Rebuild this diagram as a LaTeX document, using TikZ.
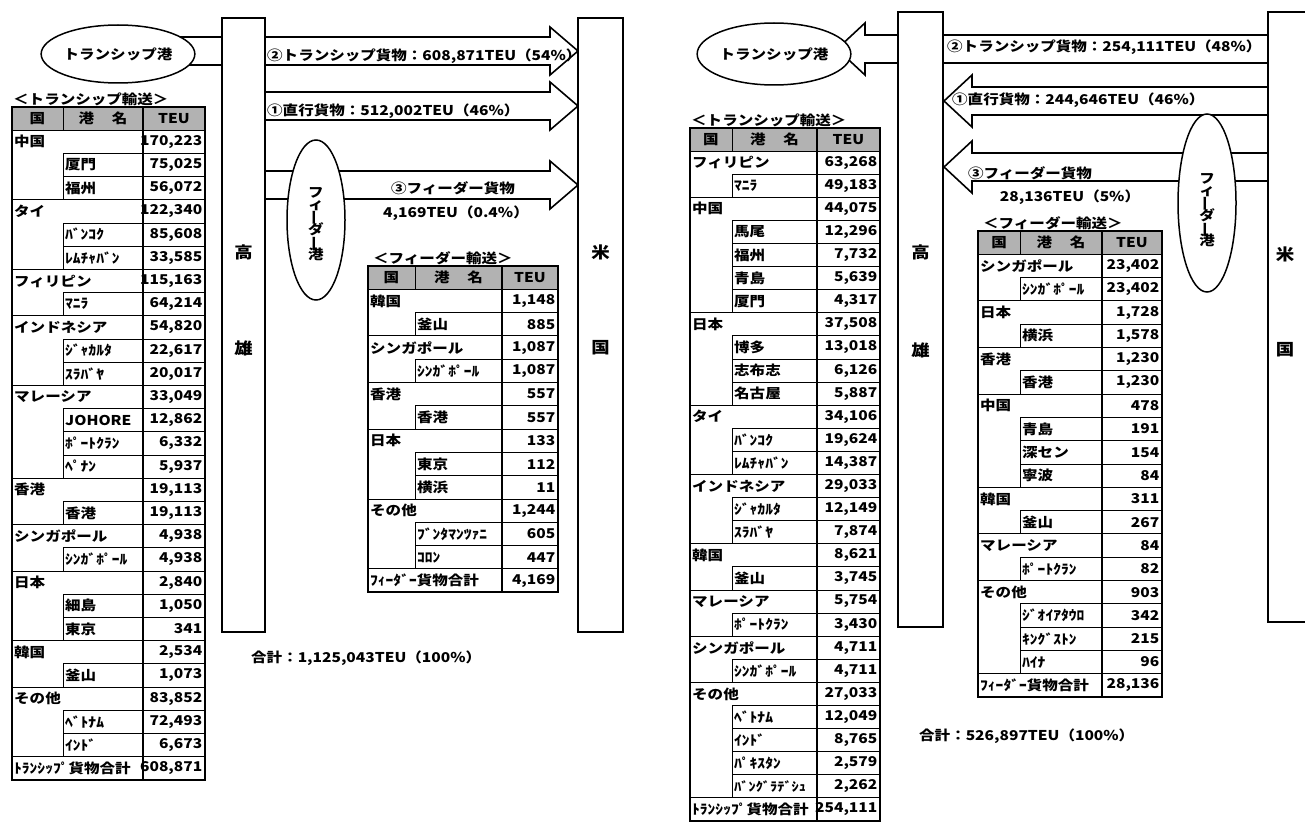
\documentclass[tikz,border=0pt]{standalone}
\usepackage{fontspec}
\setmainfont{Noto Sans CJK JP}[FakeStretch=1.15]
\usetikzlibrary{shapes.geometric}
\newcount\RowNo
\newcommand\fT{\bfseries\fontsize{13.5}{15}\selectfont}
\newcommand\fL{\bfseries\fontsize{13.5}{16}\selectfont}
\newcommand\fB{\bfseries\fontsize{16}{18}\selectfont}
\tikzset{
 tline/.style={line width=1pt},
 tframe/.style={line width=2pt},
 hdrfill/.style={fill=black!30},
 hdr/.style={inner sep=0pt,font=\fT},
 cname/.style={anchor=west,inner sep=2pt,font=\fT},
 cval/.style={anchor=east,inner sep=2.5pt,font=\fT},
 blk/.style={draw,fill=white,line width=1.6pt,line join=miter},
 pillar/.style={draw,fill=white,line width=1.6pt,inner sep=0pt},
 ell/.style={ellipse,draw,fill=white,line width=1.5pt,inner sep=0pt,font=\fL},
 albl/.style={inner sep=1pt,font=\fL},
 tlbl/.style={anchor=south west,inner sep=1pt,font=\fL},
 big/.style={inner sep=0pt,font=\fB},
}
% table helpers
\newcommand\TblBegin[7]{%
  \gdef\Tn{#1}\gdef\TxA{#2}\gdef\TxS{#3}\gdef\TxT{#4}\gdef\TxB{#5}\gdef\TyTop{#6}\gdef\TrH{#7}%
  \global\RowNo=0
  \pgfmathsetmacro\Yb{#6+#7}\pgfmathsetmacro\Ym{#6+#7/2}%
  \fill[hdrfill] (#2,#6) rectangle (#5,\Yb);
  \draw[tline] (#3,#6) -- (#3,\Yb) (#4,#6) -- (#4,\Yb);
  \node[hdr] (#1-h1) at ({(#2+#3)/2},\Ym) {国};
  \node[hdr] (#1-h2) at ({(#3+#4)/2},\Ym) {港\hspace{1.3em}名};
  \node[hdr] (#1-h3) at ({(#4+#5)/2},\Ym) {TEU};
}
\newcommand\RowCalc{\global\advance\RowNo by 1
  \pgfmathsetmacro\Yt{\TyTop+\the\RowNo*\TrH}%
  \pgfmathsetmacro\Yb{\Yt+\TrH}%
  \pgfmathsetmacro\Ym{\Yt+\TrH/2}}
\newcommand\Grp[2]{\RowCalc
  \draw[tline] (\TxA,\Yt) -- (\TxB,\Yt);
  \draw[tline] (\TxS,\Yb) -- (\TxB,\Yb);
  \node[cname] (\Tn-\the\RowNo-n) at (\TxA,\Ym) {#1};
  \node[cval] (\Tn-\the\RowNo-v) at (\TxB,\Ym) {#2};}
\newcommand\Sub[2]{\RowCalc
  \draw[tline] (\TxS,\Yt) -- (\TxS,\Yb) -- (\TxB,\Yb);
  \node[cname] (\Tn-\the\RowNo-n) at (\TxS,\Ym) {#1};
  \node[cval] (\Tn-\the\RowNo-v) at (\TxB,\Ym) {#2};}
\newcommand\Tot[2]{\RowCalc
  \draw[tline] (\TxA,\Yt) -- (\TxB,\Yt);
  \node[cname] (\Tn-\the\RowNo-n) at (\TxA,\Ym) {#1};
  \node[cval] (\Tn-\the\RowNo-v) at (\TxB,\Ym) {#2};
  \draw[tframe] (\TxA,\TyTop) rectangle (\TxB,\Yb);
  \draw[tframe] (\TxT,\TyTop) -- (\TxT,\Yb);}
% block arrows
\newcommand\ArrR[3]{\draw[blk] (#1,{#3-14}) -- ({#2-28},{#3-14}) -- ({#2-28},{#3-24}) -- (#2,#3) -- ({#2-28},{#3+24}) -- ({#2-28},{#3+14}) -- (#1,{#3+14}) -- cycle;}
\newcommand\ArrL[3]{\draw[blk] (#1,{#3-14}) -- ({#2+28},{#3-14}) -- ({#2+28},{#3-26}) -- (#2,#3) -- ({#2+28},{#3+26}) -- ({#2+28},{#3+14}) -- (#1,{#3+14}) -- cycle;}
\newcommand\VFeed{フ\\[-4pt]ィ\\[-4pt]\rotatebox[origin=c]{90}{ー}\\[-4pt]ダ\\[-4pt]\rotatebox[origin=c]{90}{ー}\\[-4pt]港}

\begin{document}
\begin{tikzpicture}[x=1pt,y=-1pt]
\useasboundingbox (0,0) rectangle (1305,824);
\clip (0,0) rectangle (1305,824);
\fill[white] (0,0) rectangle (1305,824);

% ===== left diagram =====
\ArrR{118}{578}{51}
\ArrR{243}{578}{106}
\ArrR{243}{578}{185}
\node[pillar,minimum width=43pt,minimum height=614pt] (kaoL) at (243.5,325) {};
\node[pillar,minimum width=45pt,minimum height=614pt] (usL) at (600.5,325) {};
\node[ell,minimum width=127pt,minimum height=58pt] (tpL) at (118,54) {トランシップ港};
\node[ell,minimum width=58pt,minimum height=160pt] (fpL) at (316,220) {};
\node[inner sep=0pt,font=\fL,align=center] (fpLt) at (316,224) {\VFeed};
\node[big] (kaoL1) at (243.5,252) {高};
\node[big] (kaoL2) at (243.5,348) {雄};
\node[big] (usL1) at (600.5,252) {米};
\node[big] (usL2) at (600.5,348) {国};
\node[albl,anchor=west] (a2L) at (266,56) {②トランシップ貨物：608,871TEU（54\%）};
\node[albl,anchor=west] (a1L) at (266,111) {①直行貨物：512,002TEU（46\%）};
\node[albl] (a3L) at (453,188) {③フィーダー貨物};
\node[albl] (a3Lb) at (456,213) {4,169TEU（0.4\%）};
\node[albl,anchor=west] (sumL) at (250,658) {合計：1,125,043TEU（100\%）};

\node[tlbl] (ltL) at (12,107) {＜トランシップ輸送＞};
\TblBegin{tl}{12}{63}{143}{205}{107}{23.2}
\Grp{中国}{170,223}\Sub{厦門}{75,025}\Sub{福州}{56,072}
\Grp{タイ}{122,340}\Sub{ﾊﾞﾝｺｸ}{85,608}\Sub{ﾚﾑﾁｬﾊﾞﾝ}{33,585}
\Grp{フィリピン}{115,163}\Sub{ﾏﾆﾗ}{64,214}
\Grp{インドネシア}{54,820}\Sub{ｼﾞｬｶﾙﾀ}{22,617}\Sub{ｽﾗﾊﾞﾔ}{20,017}
\Grp{マレーシア}{33,049}\Sub{JOHORE}{12,862}\Sub{ﾎﾟｰﾄｸﾗﾝ}{6,332}\Sub{ﾍﾟﾅﾝ}{5,937}
\Grp{香港}{19,113}\Sub{香港}{19,113}
\Grp{シンガポール}{4,938}\Sub{ｼﾝｶﾞﾎﾟｰﾙ}{4,938}
\Grp{日本}{2,840}\Sub{細島}{1,050}\Sub{東京}{341}
\Grp{韓国}{2,534}\Sub{釜山}{1,073}
\Grp{その他}{83,852}\Sub{ﾍﾞﾄﾅﾑ}{72,493}\Sub{ｲﾝﾄﾞ}{6,673}
\Tot{ﾄﾗﾝｼｯﾌﾟ貨物合計}{608,871}

\node[tlbl] (lfL) at (372,266) {＜フィーダー輸送＞};
\TblBegin{fl}{368}{415}{502}{558}{266}{23.3}
\Grp{韓国}{1,148}\Sub{釜山}{885}
\Grp{シンガポール}{1,087}\Sub{ｼﾝｶﾞﾎﾟｰﾙ}{1,087}
\Grp{香港}{557}\Sub{香港}{557}
\Grp{日本}{133}\Sub{東京}{112}\Sub{横浜}{11}
\Grp{その他}{1,244}\Sub{ﾌﾞﾝﾀﾏﾝﾂｧﾆ}{605}\Sub{ｺﾛﾝ}{447}
\Tot{ﾌｨｰﾀﾞｰ貨物合計}{4,169}

% ===== right diagram =====
\ArrL{1290}{837}{49}
\ArrL{1290}{944}{101}
\ArrL{1290}{944}{167}
\node[pillar,minimum width=45pt,minimum height=615pt] (kaoR) at (920.5,319.5) {};
\node[pillar,minimum width=45pt,minimum height=610pt] (usR) at (1290.5,317) {};
\node[ell,minimum width=118pt,minimum height=62pt] (tpR) at (774,54) {トランシップ港};
\node[ell,minimum width=58pt,minimum height=178pt] (fpR) at (1207,203) {};
\node[inner sep=0pt,font=\fL,align=center] (fpRt) at (1207,210) {\VFeed};
\node[big] (kaoR1) at (920.5,252) {高};
\node[big] (kaoR2) at (920.5,350) {雄};
\node[big] (usR1) at (1285,254) {米};
\node[big] (usR2) at (1285,350) {国};
\node[albl,anchor=west] (a2R) at (946,47) {②トランシップ貨物：254,111TEU（48\%）};
\node[albl,anchor=west] (a1R) at (951,100) {①直行貨物：244,646TEU（46\%）};
\node[albl] (a3R) at (1030,173) {③フィーダー貨物};
\node[albl] (a3Rb) at (1070,197) {28,136TEU（5\%）};
\node[albl,anchor=west] (sumR) at (918,736) {合計：526,897TEU（100\%）};

\node[tlbl] (ltR) at (690,128) {＜トランシップ輸送＞};
\TblBegin{tr}{690}{732}{817}{880}{128}{23.1}
\Grp{フィリピン}{63,268}\Sub{ﾏﾆﾗ}{49,183}
\Grp{中国}{44,075}\Sub{馬尾}{12,296}\Sub{福州}{7,732}\Sub{青島}{5,639}\Sub{厦門}{4,317}
\Grp{日本}{37,508}\Sub{博多}{13,018}\Sub{志布志}{6,126}\Sub{名古屋}{5,887}
\Grp{タイ}{34,106}\Sub{ﾊﾞﾝｺｸ}{19,624}\Sub{ﾚﾑﾁｬﾊﾞﾝ}{14,387}
\Grp{インドネシア}{29,033}\Sub{ｼﾞｬｶﾙﾀ}{12,149}\Sub{ｽﾗﾊﾞﾔ}{7,874}
\Grp{韓国}{8,621}\Sub{釜山}{3,745}
\Grp{マレーシア}{5,754}\Sub{ﾎﾟｰﾄｸﾗﾝ}{3,430}
\Grp{シンガポール}{4,711}\Sub{ｼﾝｶﾞﾎﾟｰﾙ}{4,711}
\Grp{その他}{27,033}\Sub{ﾍﾞﾄﾅﾑ}{12,049}\Sub{ｲﾝﾄﾞ}{8,765}\Sub{ﾊﾟｷｽﾀﾝ}{2,579}\Sub{\fontsize{12.5}{14}\selectfont ﾊﾞﾝｸﾞﾗﾃﾞｼｭ}{2,262}
\Tot{ﾄﾗﾝｼｯﾌﾟ貨物合計}{254,111}

\node[tlbl] (lfR) at (982,231) {＜フィーダー輸送＞};
\TblBegin{fr}{978}{1020}{1102}{1162}{231}{23.3}
\Grp{シンガポール}{23,402}\Sub{ｼﾝｶﾞﾎﾟｰﾙ}{23,402}
\Grp{日本}{1,728}\Sub{横浜}{1,578}
\Grp{香港}{1,230}\Sub{香港}{1,230}
\Grp{中国}{478}\Sub{青島}{191}\Sub{深セン}{154}\Sub{寧波}{84}
\Grp{韓国}{311}\Sub{釜山}{267}
\Grp{マレーシア}{84}\Sub{ﾎﾟｰﾄｸﾗﾝ}{82}
\Grp{その他}{903}\Sub{ｼﾞｵｲｱﾀｳﾛ}{342}\Sub{ｷﾝｸﾞｽﾄﾝ}{215}\Sub{ﾊｲﾅ}{96}
\Tot{ﾌｨｰﾀﾞｰ貨物合計}{28,136}
\end{tikzpicture}
\end{document}
